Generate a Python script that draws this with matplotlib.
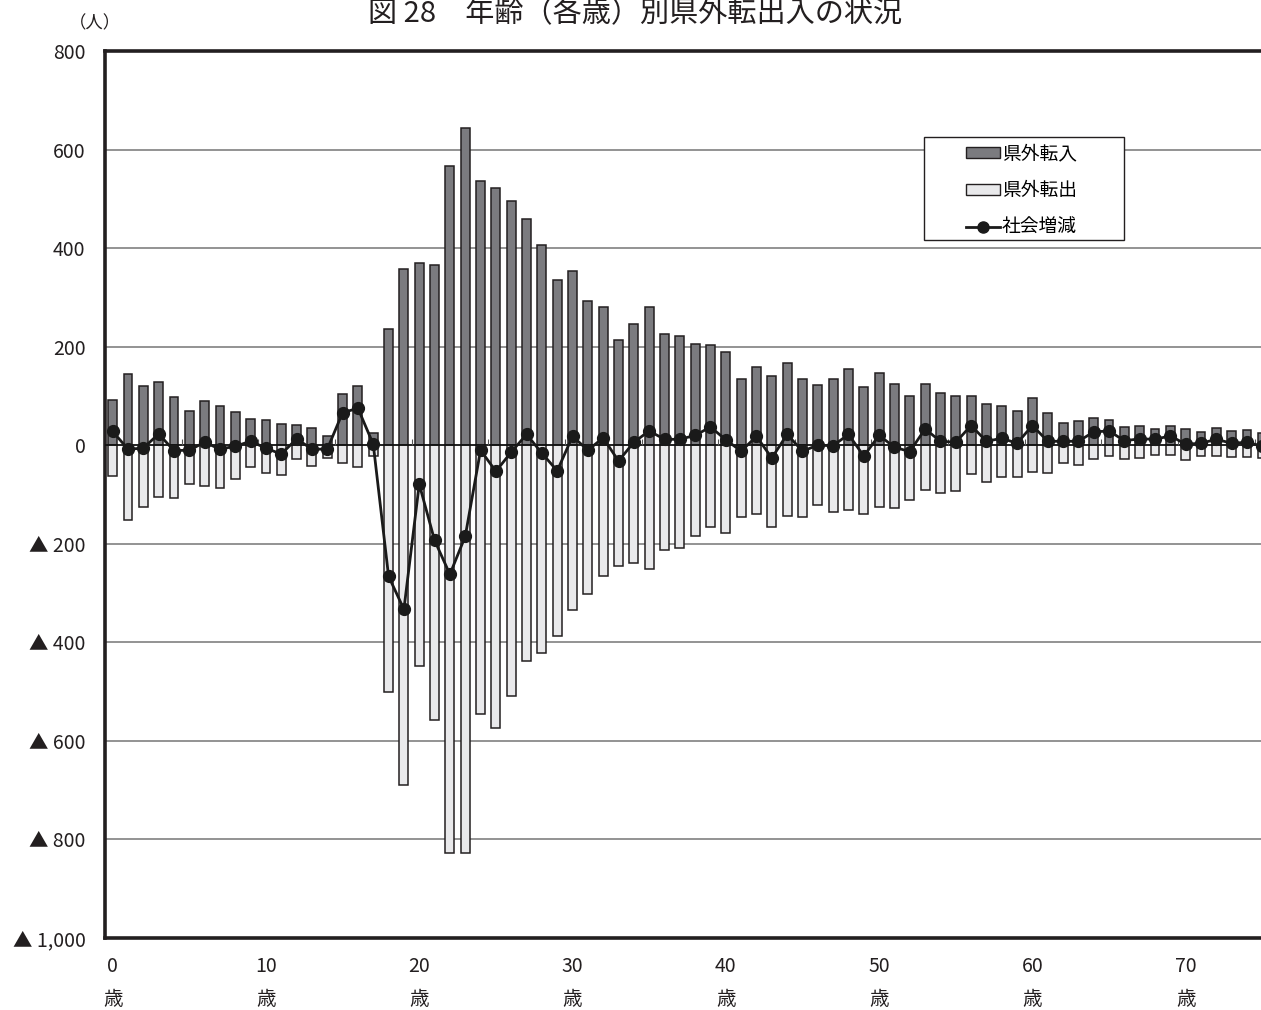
# -*- coding: utf-8 -*-
import numpy as np
import matplotlib
matplotlib.use('Agg')
import matplotlib.pyplot as plt
from matplotlib.patches import Rectangle, Patch
from matplotlib.lines import Line2D
from matplotlib.ticker import FuncFormatter

plt.rcParams['font.family'] = ['Noto Sans CJK JP', 'DejaVu Sans']

# Data
ages = list(range(76))
inflow = [91, 144, 120, 128, 97, 69, 89, 79, 67, 53,
          51, 43, 41, 35, 18, 103, 120, 24, 235, 357,
          369, 365, 566, 643, 536, 521, 495, 460, 406, 335,
          353, 292, 280, 213, 245, 280, 225, 221, 205, 203,
          189, 134, 158, 140, 166, 134, 122, 134, 154, 118,
          146, 124, 99, 124, 105, 99, 99, 83, 79, 69,
          95, 65, 45, 49, 55, 51, 37, 39, 32, 39,
          32, 26, 34, 28, 30, 24]
outflow = [-63, -152, -126, -105, -108, -79, -83, -87, -69, -45,
           -57, -61, -28, -43, -26, -37, -45, -22, -501, -690,
           -448, -558, -828, -828, -546, -574, -509, -438, -422, -387,
           -335, -302, -265, -245, -239, -251, -213, -209, -185, -166,
           -178, -146, -140, -166, -144, -146, -122, -135, -132, -140,
           -126, -128, -112, -91, -97, -93, -59, -75, -65, -65,
           -55, -57, -37, -41, -28, -22, -28, -26, -20, -20,
           -30, -22, -22, -24, -24, -26]
net = [28, -8, -6, 23, -11, -10, 6, -8, -2, 8,
       -6, -18, 13, -8, -8, 66, 75, 2, -266, -333,
       -79, -193, -262, -185, -10, -53, -14, 22, -16, -52,
       18, -10, 15, -32, 6, 29, 12, 12, 20, 37,
       11, -12, 18, -26, 22, -12, 0, -1, 22, -22,
       20, -4, -13, 33, 8, 6, 40, 8, 14, 4,
       40, 8, 8, 8, 27, 29, 9, 13, 12, 19,
       2, 4, 12, 4, 6, -2]
xtick_ages = [0, 10, 20, 30, 40, 50, 60, 70]
yticks = [-1000, -800, -600, -400, -200, 0, 200, 400, 600, 800]
labels = ['県外転入', '県外転出', '社会増減']

c_in = '#7b7b7f'
c_out = '#e9e9eb'
c_edge = '#231f20'

fig = plt.figure(figsize=(12.61, 10.10), dpi=100)
ax = fig.add_axes([105 / 1261, 1 - 938 / 1010, 1165 / 1261, 887 / 1010])

ax.bar(ages, inflow, width=0.58, color=c_in, edgecolor=c_edge, linewidth=1.1, zorder=3)
ax.bar(ages, outflow, width=0.58, color=c_out, edgecolor=c_edge, linewidth=1.1, zorder=3)
ax.axhline(0, color='#111111', linewidth=1.2, zorder=4)
# small category ticks on the zero line
ax.vlines(np.arange(4.5, 76, 5), 0, 12, color='#555555', linewidth=0.8, zorder=4)
ax.plot(ages, net, color='#1a1a1a', linewidth=2.0, marker='o', markersize=8.5, zorder=6)

ax.set_xlim(-0.5, 75.5)
ax.set_ylim(-1000, 800)
ax.set_yticks(yticks)
ax.yaxis.set_major_formatter(FuncFormatter(
    lambda v, p: f'{int(v):,}' if v >= 0 else f'▲ {int(-v):,}'))
ax.set_xticks(xtick_ages)
ax.set_xticklabels([f'{a}\n歳' for a in xtick_ages], linespacing=1.75)
ax.tick_params(axis='y', length=0, pad=14, labelsize=14, colors='#231f20')
ax.tick_params(axis='x', length=0, pad=13, labelsize=14, colors='#231f20')

ax.yaxis.grid(True, color='#8a8a8a', linewidth=1.3, zorder=0)
ax.set_axisbelow(True)
for s in ['left', 'top', 'bottom']:
    ax.spines[s].set_linewidth(2.6)
    ax.spines[s].set_color(c_edge)
ax.spines['right'].set_visible(False)

# legend frame
ax.add_patch(Rectangle(((924 - 105) / 1165, (938 - 240) / 887), 200 / 1165, 103 / 887,
                       transform=ax.transAxes, facecolor='white', edgecolor=c_edge,
                       linewidth=1.0, zorder=7))
handles = [Patch(facecolor=c_in, edgecolor=c_edge, linewidth=1.0),
           Patch(facecolor=c_out, edgecolor=c_edge, linewidth=1.0),
           Line2D([0], [0], color='#1a1a1a', linewidth=2.0, marker='o', markersize=8)]
leg = ax.legend(handles, labels, loc='upper left', bbox_to_anchor=((966 - 105) / 1165, (938 - 143) / 887),
                frameon=False, fontsize=13.5, handlelength=1.8, handleheight=0.55,
                handletextpad=0.1, labelspacing=0.85, borderpad=0, borderaxespad=0)
leg.set_zorder(8)

fig.text(635 / 1261, 1 - 14 / 1010, '図 28　年齢（各歳）別県外転出入の状況',
         ha='center', va='center', fontsize=21, color='#231f20')
fig.text(95 / 1261, 1 - 23 / 1010, '（人）', ha='center', va='center', fontsize=12.5, color='#231f20')

fig.savefig('out.png', dpi=100)
